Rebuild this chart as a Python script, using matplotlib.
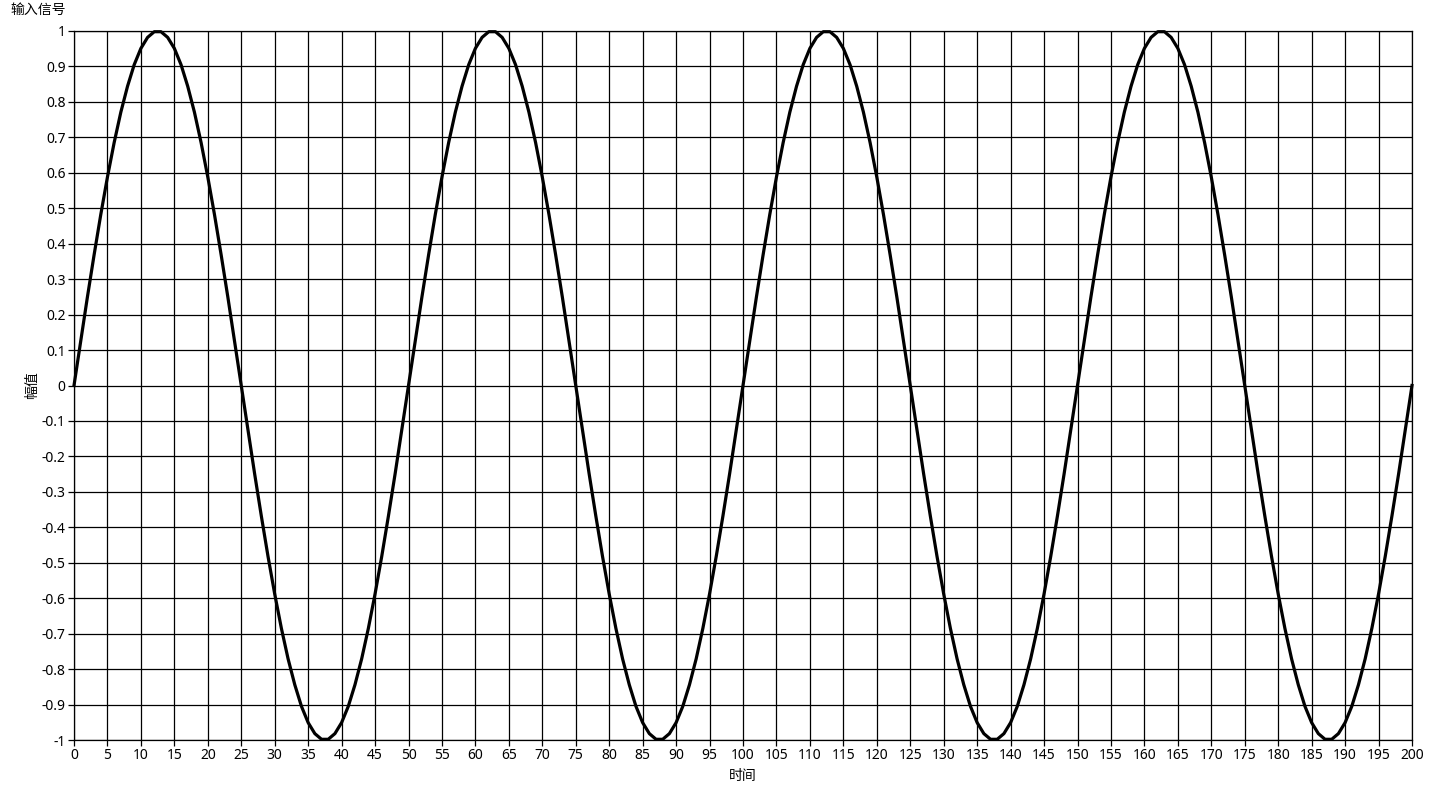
import numpy as np
import matplotlib
matplotlib.use("Agg")
import matplotlib.pyplot as plt

plt.rcParams['font.family'] = ['Noto Sans CJK SC', 'DejaVu Sans']
plt.rcParams['axes.unicode_minus'] = False

title = "输入信号"
x_label = "时间"
y_label = "幅值"

# sample index (time) 0..200
time = list(range(0, 201))
# amplitude at each sample
amplitude = [
    0.000, 0.125, 0.249, 0.368, 0.482, 0.588, 0.685, 0.771, 0.844, 0.905,
    0.951, 0.982, 0.998, 0.998, 0.982, 0.951, 0.905, 0.844, 0.771, 0.685,
    0.588, 0.482, 0.368, 0.249, 0.125, 0.000, -0.125, -0.249, -0.368, -0.482,
    -0.588, -0.685, -0.771, -0.844, -0.905, -0.951, -0.982, -0.998, -0.998, -0.982,
    -0.951, -0.905, -0.844, -0.771, -0.685, -0.588, -0.482, -0.368, -0.249, -0.125,
    0.000, 0.125, 0.249, 0.368, 0.482, 0.588, 0.685, 0.771, 0.844, 0.905,
    0.951, 0.982, 0.998, 0.998, 0.982, 0.951, 0.905, 0.844, 0.771, 0.685,
    0.588, 0.482, 0.368, 0.249, 0.125, 0.000, -0.125, -0.249, -0.368, -0.482,
    -0.588, -0.685, -0.771, -0.844, -0.905, -0.951, -0.982, -0.998, -0.998, -0.982,
    -0.951, -0.905, -0.844, -0.771, -0.685, -0.588, -0.482, -0.368, -0.249, -0.125,
    0.000, 0.125, 0.249, 0.368, 0.482, 0.588, 0.685, 0.771, 0.844, 0.905,
    0.951, 0.982, 0.998, 0.998, 0.982, 0.951, 0.905, 0.844, 0.771, 0.685,
    0.588, 0.482, 0.368, 0.249, 0.125, 0.000, -0.125, -0.249, -0.368, -0.482,
    -0.588, -0.685, -0.771, -0.844, -0.905, -0.951, -0.982, -0.998, -0.998, -0.982,
    -0.951, -0.905, -0.844, -0.771, -0.685, -0.588, -0.482, -0.368, -0.249, -0.125,
    0.000, 0.125, 0.249, 0.368, 0.482, 0.588, 0.685, 0.771, 0.844, 0.905,
    0.951, 0.982, 0.998, 0.998, 0.982, 0.951, 0.905, 0.844, 0.771, 0.685,
    0.588, 0.482, 0.368, 0.249, 0.125, 0.000, -0.125, -0.249, -0.368, -0.482,
    -0.588, -0.685, -0.771, -0.844, -0.905, -0.951, -0.982, -0.998, -0.998, -0.982,
    -0.951, -0.905, -0.844, -0.771, -0.685, -0.588, -0.482, -0.368, -0.249, -0.125,
    0.000,
]

x_ticks = list(range(0, 201, 5))
y_ticks = [round(-1 + 0.1 * i, 1) for i in range(21)]
y_tick_labels = ["-1", "-0.9", "-0.8", "-0.7", "-0.6", "-0.5", "-0.4", "-0.3", "-0.2", "-0.1",
                 "0", "0.1", "0.2", "0.3", "0.4", "0.5", "0.6", "0.7", "0.8", "0.9", "1"]

num_font = ['Noto Sans', 'DejaVu Sans']

fig = plt.figure(figsize=(14.36, 7.87), dpi=100)
ax = fig.add_axes([74 / 1436, 1 - 740 / 787, (1412 - 74) / 1436, (740 - 31) / 787])

ax.plot(time, amplitude, color="black", linewidth=2.3, zorder=3, clip_on=False)

ax.set_xlim(0, 200)
ax.set_ylim(-1, 1)
ax.set_xticks(x_ticks)
ax.set_xticklabels([str(v) for v in x_ticks], fontsize=10, family=num_font)
ax.set_yticks(y_ticks)
ax.set_yticklabels(y_tick_labels, fontsize=10, family=num_font)
ax.grid(True, color="black", linewidth=0.9)
ax.tick_params(axis="both", direction="out", length=4, width=0.9, color="black", pad=2)
for s in ax.spines.values():
    s.set_color("black")
    s.set_linewidth(0.9)

ax.set_xlabel(x_label, fontsize=10, labelpad=4)
ax.set_ylabel(y_label, fontsize=10, labelpad=2)
fig.text(10 / 1436, 1 - 10 / 787, title, fontsize=10, ha="left", va="center")

fig.savefig("out.png", dpi=100, facecolor="white")
